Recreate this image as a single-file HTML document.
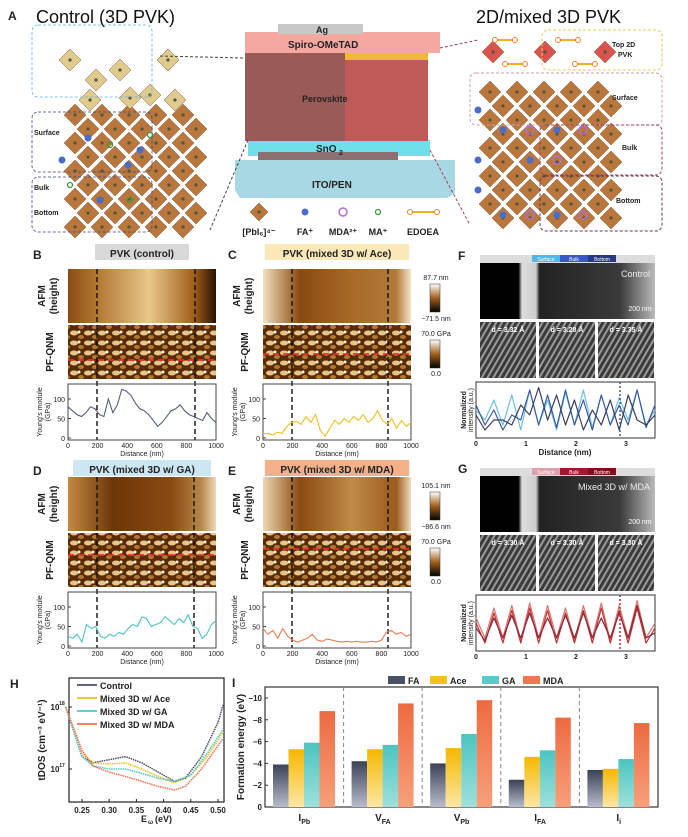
<!DOCTYPE html>
<html><head><meta charset="utf-8">
<style>
body{margin:0;background:#fff;}
#root{position:relative;width:688px;height:837px;overflow:hidden;font-family:"Liberation Sans",Arial,sans-serif;}
svg text{font-family:"Liberation Sans",Arial,sans-serif;}
</style></head>
<body>
<div id="root">
<svg id="fig" width="688" height="837" viewBox="0 0 688 837" xmlns="http://www.w3.org/2000/svg">
<defs>
<linearGradient id="afmB" x1="0" x2="1"><stop offset="0" stop-color="#8a4e12"/><stop offset="0.2" stop-color="#b27834"/><stop offset="0.55" stop-color="#e8c88a"/><stop offset="0.85" stop-color="#a0601c"/><stop offset="1" stop-color="#2a1200"/></linearGradient>
<linearGradient id="afmC" x1="0" x2="1"><stop offset="0" stop-color="#f3e0c0"/><stop offset="0.25" stop-color="#8a4a10"/><stop offset="0.6" stop-color="#a86a28"/><stop offset="0.9" stop-color="#b07a3a"/><stop offset="1" stop-color="#f5e6cc"/></linearGradient>
<linearGradient id="afmD" x1="0" x2="1"><stop offset="0" stop-color="#c48a44"/><stop offset="0.3" stop-color="#6e3608"/><stop offset="0.7" stop-color="#8a4a12"/><stop offset="0.9" stop-color="#b8884c"/><stop offset="1" stop-color="#eed8b8"/></linearGradient>
<linearGradient id="afmE" x1="0" x2="1"><stop offset="0" stop-color="#f0d8b0"/><stop offset="0.25" stop-color="#8a4a10"/><stop offset="0.6" stop-color="#c08a48"/><stop offset="0.9" stop-color="#9a5a1c"/><stop offset="1" stop-color="#f2dcbc"/></linearGradient>
<linearGradient id="cbar" x1="0" y1="0" x2="0" y2="1"><stop offset="0" stop-color="#fff"/><stop offset="0.5" stop-color="#a0601c"/><stop offset="1" stop-color="#000"/></linearGradient>
<linearGradient id="gFA" x1="0" y1="0" x2="0" y2="1"><stop offset="0" stop-color="#3a4256"/><stop offset="1" stop-color="#b8bccb"/></linearGradient>
<linearGradient id="gAce" x1="0" y1="0" x2="0" y2="1"><stop offset="0" stop-color="#f5b800"/><stop offset="1" stop-color="#fde7a4"/></linearGradient>
<linearGradient id="gGA" x1="0" y1="0" x2="0" y2="1"><stop offset="0" stop-color="#4cc4c0"/><stop offset="1" stop-color="#9fe0dc"/></linearGradient>
<linearGradient id="gMDA" x1="0" y1="0" x2="0" y2="1"><stop offset="0" stop-color="#ee6a40"/><stop offset="1" stop-color="#f6a07a"/></linearGradient>
<linearGradient id="temF" x1="0" x2="1"><stop offset="0" stop-color="#000"/><stop offset="0.22" stop-color="#000"/><stop offset="0.24" stop-color="#ddd"/><stop offset="0.32" stop-color="#ccc"/><stop offset="0.34" stop-color="#222"/><stop offset="0.8" stop-color="#3a3a3a"/><stop offset="1" stop-color="#bbb"/></linearGradient>
<pattern id="pf" width="14" height="10" patternUnits="userSpaceOnUse"><rect width="14" height="10" fill="#5a2c06"/><ellipse cx="4" cy="3" rx="4" ry="2.5" fill="#e7c58a"/><ellipse cx="11" cy="7" rx="3" ry="2" fill="#b47a34"/><circle cx="9" cy="2" r="1.5" fill="#fff3d8"/></pattern>
<pattern id="hr" width="5" height="5" patternUnits="userSpaceOnUse" patternTransform="rotate(30)"><rect width="5" height="5" fill="#3a3a3a"/><rect width="2" height="5" fill="#9a9a9a"/></pattern>
</defs>
<g id="panelA"></g>
<g id="afm"></g>
<g id="ym"></g>
<g id="tem"></g>
<g id="chartH"></g>
<g id="chartI"></g>
</svg>
</div>
<script>
// ===== Chart I data =====
const defectCats = ["I_Pb","V_FA","V_Pb","I_FA","I_i"];
const catMain = ["I","V","V","I","I"];
const catSub = ["Pb","FA","Pb","FA","i"];
const seriesNames = ["FA","Ace","GA","MDA"];
const valFA = [3.9,4.2,4.0,2.5,3.4];
const valAce = [5.3,5.3,5.4,4.6,3.5];
const valGA = [5.9,5.7,6.7,5.2,4.4];
const valMDA = [8.8,9.5,9.8,8.2,7.7];
const yTicksI = [0,2,4,6,8,10];
// ===== Chart H data (log10 tDOS vs E) =====
const eCtrl = [0.22,0.25,0.27,0.30,0.33,0.36,0.39,0.42,0.44,0.47,0.50,0.51];
const tCtrl = [18.0,17.2,17.1,17.15,17.2,17.1,16.95,16.8,16.85,17.2,17.75,18.05];
const eAce = [0.22,0.25,0.27,0.30,0.33,0.36,0.39,0.42,0.45,0.48,0.51];
const tAce = [18.0,17.25,17.1,17.08,17.1,17.0,16.88,16.78,16.9,17.2,17.6];
const eGA = [0.22,0.25,0.27,0.30,0.33,0.36,0.39,0.42,0.45,0.48,0.51];
const tGA = [18.0,17.2,17.05,17.0,17.0,16.93,16.85,16.8,16.9,17.25,17.65];
const eMDA = [0.22,0.25,0.27,0.30,0.33,0.36,0.39,0.42,0.44,0.47,0.51];
const tMDA = [18.0,17.3,17.05,16.95,16.88,16.8,16.72,16.66,16.72,17.0,17.5];
const xTicksH = [0.25,0.30,0.35,0.40,0.45,0.50];
// ===== Young's modulus data (GPa vs distance, 0..1000 nm) =====
const ymB = [80,70,60,55,65,80,75,60,55,100,65,85,125,120,110,90,75,70,60,45,30,40,55,70,75,85,70,60,55,50,45,65,50,40];
const ymC = [10,12,8,15,12,30,40,42,35,55,40,60,20,5,25,45,35,50,40,55,45,60,40,50,70,45,35,50,25,45,30,40];
const ymD = [25,20,30,10,55,45,50,25,20,30,25,35,30,45,55,50,75,70,50,55,60,75,65,55,70,60,80,50,45,20,30,55,65];
const ymE = [45,30,40,20,45,25,15,10,15,20,30,15,12,18,15,12,10,12,10,12,10,10,12,10,15,35,40,30,35,25,30];
const ymTicks = [0,50,100];
const ymXTicks = [0,200,400,600,800,1000];
// ===== TEM line profile data (normalized intensity) =====
const temF1 = [0.5,0.3,0.7,0.2,0.8,0.1,0.9,0.2,0.7,0.1,0.85,0.2,0.9,0.15,0.8,0.2,0.75,0.3,0.9,0.2,0.5];
const temF2 = [0.6,0.2,0.5,0.1,0.4,0.3,0.9,0.2,0.8,0.15,0.9,0.2,0.7,0.1,0.8,0.2,0.6,0.2,0.9,0.15,0.6];
const temF3 = [0.4,0.1,0.3,0.3,0.2,0.6,0.4,0.95,0.3,0.8,0.2,0.7,0.1,0.5,0.2,0.7,0.1,0.8,0.3,0.2,0.4];
const temG1 = [0.6,0.2,0.8,0.2,0.85,0.15,0.9,0.2,0.85,0.2,0.8,0.15,0.85,0.2,0.9,0.15,0.85,0.2,0.95,0.2,0.5];
const temG2 = [0.5,0.1,0.7,0.1,0.75,0.1,0.8,0.1,0.75,0.1,0.7,0.1,0.75,0.1,0.8,0.1,0.75,0.1,0.8,0.1,0.4];
const temG3 = [0.4,0.15,0.6,0.2,0.65,0.2,0.7,0.2,0.6,0.2,0.65,0.2,0.7,0.2,0.6,0.2,0.7,0.2,0.85,0.2,0.3];

const NS="http://www.w3.org/2000/svg";
function el(tag,attrs,parent,text){const e=document.createElementNS(NS,tag);for(const k in attrs)e.setAttribute(k,attrs[k]);if(text!==undefined)e.textContent=text;parent.appendChild(e);return e;}
function txt(parent,x,y,s,size,opts){opts=opts||{};const t=el('text',{x:x,y:y,'font-size':size,'font-weight':opts.w||'bold','text-anchor':opts.a||'start',fill:opts.f||'#222'},parent,s);if(opts.rot)t.setAttribute('transform','rotate(-90 '+x+' '+y+')');return t;}

// ===================== Panel A =====================
const A=document.getElementById('panelA');
let t;
t=txt(A,8,20,'A',12);
t=txt(A,36,23,'Control (3D PVK)',18,{w:'normal',f:'#111'});
t=txt(A,476,23,'2D/mixed 3D PVK',18,{w:'normal',f:'#111'});
function oct(g,cx,cy,r,fill){el('polygon',{points:(cx)+','+(cy-r)+' '+(cx+r)+','+cy+' '+cx+','+(cy+r)+' '+(cx-r)+','+cy,fill:fill,stroke:'#8a5a30','stroke-width':0.5},g);el('circle',{cx:cx,cy:cy,r:1.6,fill:'#553'},g);}
// left lattice
const Lg=el('g',{},A);
for(let r=0;r<9;r++){for(let c=0;c<5;c++){const cx=75+c*27+(r%2)*13, cy=115+r*14;if(cx<210)oct(Lg,cx,cy,11,'#b9773e');}}
[[70,60],[96,80],[120,70],[168,60],[90,100],[130,98],[150,95],[175,100]].forEach(p=>oct(Lg,p[0],p[1],11,'#e0cb8e'));
[[88,138],[128,165],[100,200],[140,150],[62,160]].forEach(p=>el('circle',{cx:p[0],cy:p[1],r:3.5,fill:'#4a6ec8'},Lg));
[[110,145],[70,185],[150,135],[130,200]].forEach(p=>el('circle',{cx:p[0],cy:p[1],r:2.5,fill:'none',stroke:'#3a9a3a','stroke-width':1.3},Lg));
[['Surface',32,97,'#5ab4e0',72],['Bulk',32,172,'#3a4a7a',60],['Bottom',32,232,'#3a4a7a',55]].forEach(b=>{const h=b[4];el('rect',{x:b[1],y:b[2]-h+0,width:120,height:h,rx:6,fill:'none',stroke:b[3],'stroke-dasharray':'3,2','stroke-width':0.8},Lg);});
txt(Lg,34,135,'Surface',7);txt(Lg,34,190,'Bulk',7);txt(Lg,34,215,'Bottom',7);
// right lattice
const Rg=el('g',{},A);
for(let r=0;r<10;r++){for(let c=0;c<5;c++){const cx=490+c*27+(r%2)*13, cy=92+r*14;oct(Rg,cx,cy,11,'#b9773e');}}
[[493,52],[545,52],[605,52]].forEach(p=>oct(Rg,p[0],p[1],11,'#d9534f'));
[[505,40],[568,40],[515,64],[585,64]].forEach(p=>{el('line',{x1:p[0]-10,y1:p[1],x2:p[0]+10,y2:p[1],stroke:'#f0b020','stroke-width':2},Rg);el('circle',{cx:p[0]-10,cy:p[1],r:2.5,fill:'#fff',stroke:'#f08030'},Rg);el('circle',{cx:p[0]+10,cy:p[1],r:2.5,fill:'#fff',stroke:'#f08030'},Rg);});
[[478,110],[503,130],[557,130],[478,160],[530,160],[478,190],[503,215],[557,215]].forEach(p=>el('circle',{cx:p[0],cy:p[1],r:3.5,fill:'#4a6ec8'},Rg));
[[530,130],[583,130],[557,160],[530,215],[583,215]].forEach(p=>el('circle',{cx:p[0],cy:p[1],r:4,fill:'none',stroke:'#b070d0','stroke-width':1.5},Rg));
el('rect',{x:542,y:30,width:120,height:40,rx:6,fill:'none',stroke:'#e8c860','stroke-dasharray':'3,2'},Rg);
el('rect',{x:470,y:73,width:192,height:52,rx:6,fill:'none',stroke:'#c8a0b8','stroke-dasharray':'3,2'},Rg);
el('rect',{x:540,y:125,width:122,height:50,rx:6,fill:'none',stroke:'#a04060','stroke-dasharray':'3,2'},Rg);
el('rect',{x:540,y:176,width:122,height:55,rx:6,fill:'none',stroke:'#6a3050','stroke-dasharray':'3,2'},Rg);
txt(Rg,612,47,'Top 2D',7);txt(Rg,618,57,'PVK',7);txt(Rg,612,100,'Surface',7);txt(Rg,622,150,'Bulk',7);txt(Rg,616,203,'Bottom',7);
// device
const Dg=el('g',{},A);
el('polygon',{points:'235,160 455,160 455,193 447,198 240,198 235,190',fill:'#a8d8e4'},Dg);
txt(Dg,312,188,'ITO/PEN',10,{w:'bold'});
el('rect',{x:248,y:140,width:182,height:16,fill:'#6fe0ea'},Dg);
el('rect',{x:258,y:152,width:140,height:8,fill:'#8a7070'},Dg);
txt(Dg,316,152,'SnO',10);txt(Dg,339,155,'2',7);
el('rect',{x:245,y:53,width:100,height:88,fill:'#9a5a58'},Dg);
el('rect',{x:345,y:53,width:83,height:88,fill:'#c05a58'},Dg);
el('rect',{x:345,y:53,width:83,height:7,fill:'#f0b83a'},Dg);
txt(Dg,302,102,'Perovskite',9);
el('rect',{x:245,y:32,width:195,height:21,fill:'#f4a8a0'},Dg);
txt(Dg,288,48,'Spiro-OMeTAD',10);
el('rect',{x:278,y:24,width:85,height:10,fill:'#c8c8c8'},Dg);
txt(Dg,316,33,'Ag',9);
el('line',{x1:160,y1:56,x2:245,y2:58,stroke:'#444','stroke-dasharray':'3,2'},Dg);
el('line',{x1:440,y1:48,x2:478,y2:40,stroke:'#a04060','stroke-dasharray':'3,2'},Dg);
el('line',{x1:248,y1:140,x2:210,y2:230,stroke:'#444','stroke-dasharray':'3,2'},Dg);
el('line',{x1:430,y1:150,x2:470,y2:225,stroke:'#a04060','stroke-dasharray':'3,2'},Dg);
// legend A
const LA=el('g',{},A);
oct(LA,259,212,9,'#b9773e');
el('circle',{cx:305,cy:212,r:3.5,fill:'#4a6ec8'},LA);
el('circle',{cx:343,cy:212,r:4,fill:'none',stroke:'#b070d0','stroke-width':1.5},LA);
el('circle',{cx:378,cy:212,r:2.5,fill:'none',stroke:'#3a9a3a','stroke-width':1.3},LA);
el('line',{x1:410,y1:212,x2:437,y2:212,stroke:'#f0b020','stroke-width':2},LA);el('circle',{cx:410,cy:212,r:2.5,fill:'#fff',stroke:'#f08030'},LA);el('circle',{cx:437,cy:212,r:2.5,fill:'#fff',stroke:'#f08030'},LA);
txt(LA,259,235,'[PbI₆]⁴⁻',9,{a:'middle'});txt(LA,305,235,'FA⁺',9,{a:'middle'});txt(LA,343,235,'MDA²⁺',9,{a:'middle'});txt(LA,378,235,'MA⁺',9,{a:'middle'});txt(LA,423,235,'EDOEA',9,{a:'middle'});

// ===================== AFM panels B-E =====================
const AF=document.getElementById('afm');
const panels=[
 {id:'b',L:'B',title:'PVK (control)',tbg:'#d8d8d8',x:68,y0:0,ty:0,grad:'afmB',ym:ymB,col:'#556075',dl:[97,195],cb:null},
 {id:'c',L:'C',title:'PVK (mixed 3D w/ Ace)',tbg:'#fbe8b8',x:263,y0:0,ty:0,grad:'afmC',ym:ymC,col:'#f0c020',dl:[292,388],cb:['87.7 nm','−71.5 nm']},
 {id:'d',L:'D',title:'PVK (mixed 3D w/ GA)',tbg:'#cce6f2',x:68,y0:208,ty:216,grad:'afmD',ym:ymD,col:'#50c4c4',dl:[97,194],cb:null},
 {id:'e',L:'E',title:'PVK (mixed 3D w/ MDA)',tbg:'#f4b088',x:263,y0:208,ty:216,grad:'afmE',ym:ymE,col:'#f07850',dl:[292,388],cb:['105.1 nm','−86.6 nm']}];
const YM=document.getElementById('ym');
panels.forEach(p=>{
 const g=el('g',{},AF);
 const W=148, y=p.y0, ty=p.ty;
 txt(g,p.x-35,259+ty,p.L,12);
 const tw=p.title.length*6.3+12;
 el('rect',{x:p.x+W/2-tw/2,y:244+ty,width:tw,height:16,fill:p.tbg},g);
 txt(g,p.x+W/2,257+ty,p.title,10,{a:'middle'});
 el('rect',{x:p.x,y:269+y,width:W,height:54,fill:'url(#'+p.grad+')'},g);
 el('rect',{x:p.x,y:325+y,width:W,height:54,fill:'url(#pf)'},g);
 const ry={b:360,c:354,d:347,e:341}[p.id]+y;
 el('line',{x1:p.x,y1:ry,x2:p.x+W,y2:ry,stroke:'#e83030','stroke-width':1.8,'stroke-dasharray':'6,4'},g);
 txt(g,p.x-23,296+y,'AFM',10,{a:'middle',rot:1});txt(g,p.x-11,296+y,'(height)',10,{a:'middle',rot:1});
 txt(g,p.x-15,352+y,'PF-QNM',10,{a:'middle',rot:1});
 if(p.cb){el('rect',{x:430,y:284+y,width:10,height:28,fill:'url(#cbar)',stroke:'#333','stroke-width':0.5},g);
  txt(g,436,280+y,p.cb[0],7,{w:'normal',a:'middle'});txt(g,436,321+y,p.cb[1],7,{w:'normal',a:'middle'});
  el('rect',{x:430,y:340+y,width:10,height:28,fill:'url(#cbar)',stroke:'#333','stroke-width':0.5},g);
  txt(g,436,336+y,'70.0 GPa',7,{w:'normal',a:'middle'});txt(g,436,376+y,'0.0',7,{w:'normal',a:'middle'});}
 const pg=el('g',{},YM);
 const top=384+y, bot=440+y;
 const sx=v=>p.x+v/1000*W, sy=v=>bot-v*0.39-2;
 el('rect',{x:p.x,y:top,width:W,height:bot-top,fill:'none',stroke:'#444','stroke-width':1},pg);
 ymTicks.forEach(v=>{el('line',{x1:p.x,y1:sy(v),x2:p.x+3,y2:sy(v),stroke:'#444'},pg);txt(pg,p.x-3,sy(v)+3,String(v),7,{w:'normal',a:'end'});});
 ymXTicks.forEach(v=>{txt(pg,sx(v),bot+8,String(v),7,{w:'normal',a:'middle'});});
 txt(pg,p.x+W/2,bot+16,'Distance (nm)',7,{w:'normal',a:'middle'});
 txt(pg,p.x-26,bot-28,"Young's module",7,{w:'normal',a:'middle',rot:1});txt(pg,p.x-18,bot-28,'(GPa)',7,{w:'normal',a:'middle',rot:1});
 const step=1000/(p.ym.length-1);
 const line=el('polyline',{points:p.ym.map((v,i)=>sx(i*step)+','+sy(v)).join(' '),fill:'none',stroke:p.col,'stroke-width':1.1},pg);
 
 p.dl.forEach(xx=>el('line',{x1:xx,y1:269+y,x2:xx,y2:bot,stroke:'#111','stroke-width':1.4,'stroke-dasharray':'5,3'},g));
});

// ===================== TEM F,G =====================
const TM=document.getElementById('tem');
[{id:'f',L:'F',y:0,bar:['#50b8e8','#3a58c0','#283a80'],lab:'Control',cols:['#6ec0e0','#3a5aa0','#3a3e58'],data:[temF1,temF2,temF3],d:['3.32','3.28','3.35'],ax:true},
 {id:'g',L:'G',y:213,bar:['#e0a0b0','#a01830','#801020'],lab:'Mixed 3D w/ MDA',cols:['#e07070','#c03030','#8a2a3a'],data:[temG1,temG2,temG3],d:['3.30','3.30','3.30'],ax:false}].forEach(p=>{
 const g=el('g',{},TM);
 const y=p.y;
 txt(g,458,260+y,p.L,12);
 el('rect',{x:480,y:255+y,width:175,height:8,fill:'#ddd'},g);
 ['Surface','Bulk','Bottom'].forEach((s,i)=>{el('rect',{x:532+i*28,y:255+y,width:28,height:7,fill:p.bar[i]},g);txt(g,546+i*28,261+y,s,5,{w:'normal',a:'middle',f:'#fff'});});
 el('rect',{x:480,y:263+y,width:175,height:56,fill:'url(#temF)'},g);
 txt(g,650,277+y,p.lab,9,{w:'normal',a:'end',f:'#eee'});
 txt(g,640,311+y,'200 nm',7,{w:'normal',a:'middle',f:'#fff'});
 [0,1,2].forEach(i=>{const x=480+i*59;el('rect',{x:x,y:322+y,width:56,height:56,fill:'url(#hr)'},g);
  txt(g,x+28,332+y,'d = '+p.d[i]+' Å',7,{w:'bold',a:'middle',f:'#fff'});});
 const top=382+y,bot=438+y,x0=476,x1=655;
 el('rect',{x:x0,y:top,width:x1-x0,height:bot-top,fill:'none',stroke:'#333'},g);
 txt(g,466,bot-28,'Normalized',7,{a:'middle',rot:1});txt(g,473,bot-28,'intensity (a.u.)',7,{w:'normal',a:'middle',rot:1});
 ['0','1','2','3'].forEach((s,i)=>txt(g,x0+i*50,bot+8,s,7,{a:'middle'}));
 if(p.ax)txt(g,565,bot+17,'Distance (nm)',8,{a:'middle'});
 p.data.forEach((arr,k)=>{const st=(x1-x0)/(arr.length-1);
  const pl=el('polyline',{points:arr.map((v,i)=>(x0+i*st)+','+(bot-3-v*(bot-top-6))).join(' '),fill:'none',stroke:p.cols[k],'stroke-width':1.2,'stroke-linejoin':'round'},g);
  });
 el('line',{x1:x0+144,y1:top,x2:x0+144,y2:bot,stroke:p.cols[1],'stroke-dasharray':'2,2','stroke-width':1.5},g);
});

// ===================== Chart H =====================
const H=document.getElementById('chartH');
const hx0=69,hx1=224,hy0=678,hy1=802;
const Ex=e=>82+(e-0.25)*544;
const Ly=l=>769-(l-17)*62;
txt(H,10,688,'H',12);
el('rect',{x:hx0,y:hy0,width:hx1-hx0,height:hy1-hy0,fill:'none',stroke:'#222','stroke-width':1.2},H);
xTicksH.forEach(v=>{el('line',{x1:Ex(v),y1:hy1,x2:Ex(v),y2:hy1-3,stroke:'#222'},H);txt(H,Ex(v),hy1+11,v.toFixed(2),8,{a:'middle'});});
[17,18].forEach(l=>{el('line',{x1:hx0,y1:Ly(l),x2:hx0+3,y2:Ly(l),stroke:'#222'},H);txt(H,hx0-14,Ly(l)+3,'10',8,{a:'middle'});txt(H,hx0-7,Ly(l)-2,String(l),5,{a:'middle'});});
txt(H,147,822,'E',9,{a:'end'});txt(H,148,824,'ω',6);txt(H,155,822,'(eV)',9);
txt(H,45,740,'tDOS (cm⁻³ eV⁻¹)',10,{a:'middle',rot:1});
const Hs=[[eCtrl,tCtrl,'#4a5068','Control'],[eAce,tAce,'#f2c010','Mixed 3D w/ Ace'],[eGA,tGA,'#50c8c8','Mixed 3D w/ GA'],[eMDA,tMDA,'#f07050','Mixed 3D w/ MDA']];
Hs.forEach((s,k)=>{
 const pl=el('polyline',{points:s[0].map((e,i)=>Ex(e)+','+Ly(s[1][i])).join(' '),fill:'none',stroke:s[2],'stroke-width':1.5,'stroke-dasharray':'1.5,0.8'},H);
 
 const lg=el('g',{},H);
 el('line',{x1:77,y1:685+k*13,x2:97,y2:685+k*13,stroke:s[2],'stroke-width':1.8},lg);
 txt(lg,100,689+k*13,s[3],9);
});

// ===================== Chart I =====================
const I=document.getElementById('chartI');
const ix0=265,ix1=658,iy0=687,iy1=807;
const Vy=v=>iy1-v*10.9;
const gw=(ix1-ix0)/defectCats.length;
const bw=15.5;
txt(I,232,687,'I',12);
el('rect',{x:ix0,y:iy0,width:ix1-ix0,height:iy1-iy0,fill:'none',stroke:'#333','stroke-width':1.2},I);
yTicksI.forEach(v=>{el('line',{x1:ix0,y1:Vy(v),x2:ix0+3,y2:Vy(v),stroke:'#333'},I);txt(I,ix0-3,Vy(v)+3,v===0?'0':'−'+v,8,{a:'end'});});
txt(I,244,747,'Formation energy (eV)',10,{a:'middle',rot:1});
const sers=[valFA,valAce,valGA,valMDA], fills=['url(#gFA)','url(#gAce)','url(#gGA)','url(#gMDA)'];
defectCats.forEach((c,i)=>{
 const gx=ix0+i*gw;
 if(i>0)el('line',{x1:gx,y1:iy0,x2:gx,y2:iy1,stroke:'#888','stroke-dasharray':'4,3'},I);
 sers.forEach((arr,k)=>{const r=el('rect',{x:gx+8+k*bw,y:Vy(arr[i]),width:bw,height:arr[i]*10.9,fill:fills[k]},I);
  });
 const lt=el('text',{x:gx+gw/2,y:iy1+14,'font-size':10,'font-weight':'bold','text-anchor':'middle',fill:'#222'},I);
 
 lt.textContent=catMain[i];
 const ts=el('tspan',{'font-size':7,dy:3},lt);ts.textContent=catSub[i];
});
const legX=[388,430,482,523], legC=['#4a5068','#f5c020','#5ccaca','#f07850'];
seriesNames.forEach((n,k)=>{const lg=el('g',{},I);
 el('rect',{x:legX[k],y:676,width:17,height:8,fill:legC[k]},lg);txt(lg,legX[k]+20,684,n,9);});
</script>
</body></html>
